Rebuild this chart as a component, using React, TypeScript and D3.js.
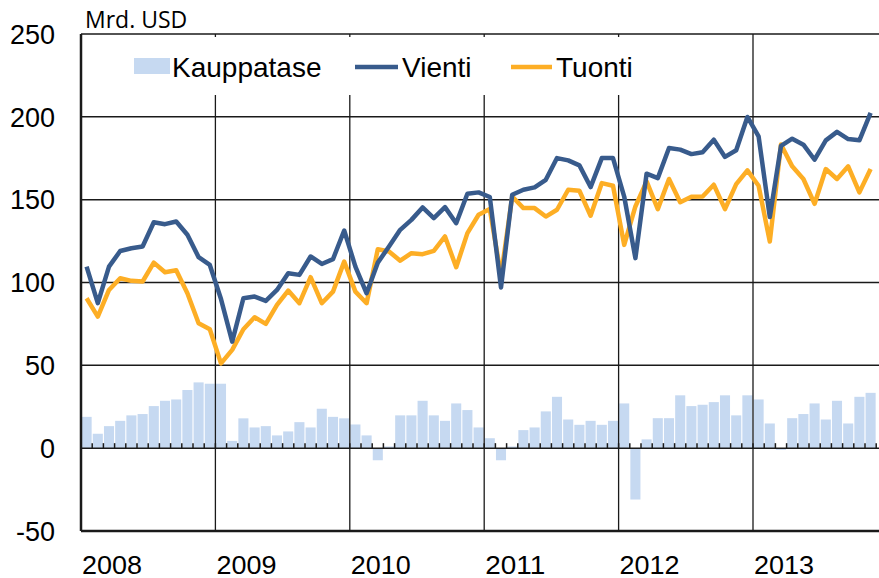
import React from "react";
import * as d3 from "d3";

// monthly data Jan 2008 - Nov 2013, Mrd. USD
const years = ["2008", "2009", "2010", "2011", "2012", "2013"];
const yTicks = [-50, 0, 50, 100, 150, 200, 250];

const vienti = [
  109.6, 87.5, 109.6, 119, 120.7, 121.7, 136.4, 135.2, 136.8, 128.8, 115.3, 110.6,
  90, 64.3, 90.5, 91.5, 88.9, 95.5, 105.6, 104.6, 115.7, 111.2, 114.1, 131.4,
  109.6, 93.5, 112, 121.7, 131.8, 137.8, 145.3, 138.9, 145.5, 135.8, 153.6, 154.4,
  151.6, 97, 153, 156, 157.4, 162, 175.1, 173.7, 170.7, 157.6, 175.1, 175.1,
  151.9, 114.7, 165.7, 163, 181.2, 180.2, 177.5, 178.6, 186.2, 175.8, 179.8, 199.9,
  188.2, 139.5, 182.5, 186.8, 183.2, 174.1, 185.8, 190.9, 186.6, 185.8, 202.4,
];

const tuonti = [
  90.5, 79.4, 95.5, 102.6, 101, 100.6, 112, 106.2, 107.4, 93.5, 75.4, 71.8,
  51.2, 59.3, 71.8, 79, 75, 86.5, 95.1, 87.5, 103.2, 87.5, 94.5, 112.6,
  94.5, 87.5, 120.1, 118.7, 113.2, 117.7, 117.1, 119.1, 127.8, 109.2, 129.8, 140.9,
  144.3, 104, 151.9, 144.9, 144.9, 139.8, 143.9, 156, 155.4, 140.3, 160, 158.4,
  122.7, 145.9, 161, 144.3, 162.5, 148.5, 151.8, 151.9, 159, 144.3, 159.4, 167.7,
  158.4, 124.7, 183.3, 170.1, 162.5, 147.5, 168.5, 162.5, 170.1, 154.4, 168.5,
];

const kauppatase = [
  18.9, 8.7, 13.3, 16.5, 19.8, 20.6, 25.4, 28.6, 29.4, 35.1, 39.7, 38.9,
  38.9, 4.4, 18, 12.5, 13.3, 7.7, 10.1, 15.7, 12.5, 23.8, 18.9, 18,
  14.3, 7.7, -7.3, 1, 19.8, 19.8, 28.6, 19.8, 16.5, 27, 23, 12.5,
  6, -7.3, 1, 10.9, 12.5, 22.2, 31, 17.3, 14.1, 16.5, 14.1, 16.5,
  27, -31, 5.3, 18.1, 18.1, 31.9, 25.4, 26.2, 27.8, 31.9, 19.8, 31.9,
  29.4, 14.9, -1, 18.1, 20.6, 27, 17.3, 28.6, 14.9, 31, 33.4,
];

// band per month, axis runs to end of 2013
const months = d3.range(years.length * 12);

const W = 879;
const H = 578;
const left = 81;
const monthW = 11.2;
const top = 34;
const bottom = 531;

const font = "'Liberation Sans', Arial, sans-serif";
const gridColor = "#1a1a1a";

const App = () => {
  const x = d3.scaleBand<number>()
    .domain(months)
    .range([left, left + months.length * monthW])
    .paddingInner(0.1)
    .paddingOuter(0.05);

  const y = d3.scaleLinear().domain([-50, 250]).range([bottom, top]);

  const cx = (i: number) => (x(i) as number) + x.bandwidth() / 2;

  const line = d3.line<number>()
    .x((d, i) => cx(i))
    .y((d) => y(d));

  const yearX = (k: number) => left + k * 12 * monthW;

  return (
    <svg width={W} height={H} style={{ position: "absolute", left: 0, top: 0, background: "#fff" }}>
      {/* balance bars */}
      {kauppatase.map((v, i) => (
        <rect
          key={"b" + i}
          x={x(i)}
          y={y(Math.max(0, v))}
          width={x.bandwidth()}
          height={Math.abs(y(v) - y(0))}
          fill="#c6d9f1"
        />
      ))}

      {/* horizontal grid */}
      {yTicks.map((t) => (
        <line key={"h" + t} x1={left} x2={W} y1={y(t)} y2={y(t)}
          stroke={gridColor} strokeWidth={t === -50 ? 2.5 : 1.5} />
      ))}

      {/* year lines */}
      {years.map((yr, k) => (
        <line key={"v" + yr} x1={yearX(k)} x2={yearX(k)} y1={top} y2={bottom}
          stroke={gridColor} strokeWidth={k === 0 ? 2.5 : 1.3} />
      ))}

      {/* month ticks on zero line */}
      {months.map((m) => (
        <line key={"t" + m} x1={left + m * monthW} x2={left + m * monthW}
          y1={y(0)} y2={y(0) - 5} stroke={gridColor} strokeWidth={1.5} />
      ))}

      {/* legend box */}
      <rect x={100} y={37} width={560} height={58} fill="#fff" />
      <rect x={134} y={58} width={36} height={16} fill="#c6d9f1" />
      <text x={172} y={77} fontFamily={font} fontSize={28}>Kauppatase</text>
      <line x1={355} x2={398} y1={67} y2={67} stroke="#385b8c" strokeWidth={4.5} />
      <text x={402} y={77} fontFamily={font} fontSize={28}>Vienti</text>
      <line x1={511} x2={552} y1={67} y2={67} stroke="#fdae25" strokeWidth={4.5} />
      <text x={556} y={77} fontFamily={font} fontSize={28}>Tuonti</text>

      {/* lines */}
      <path d={line(tuonti) || ""} fill="none" stroke="#fdae25" strokeWidth={4.5} strokeLinejoin="round" />
      <path d={line(vienti) || ""} fill="none" stroke="#385b8c" strokeWidth={4.5} strokeLinejoin="round" />

      {/* y axis labels */}
      {yTicks.map((t) => (
        <text key={"yl" + t} x={55} y={y(t)} dy="0.36em" textAnchor="end"
          fontFamily={font} fontSize={27}>{t}</text>
      ))}

      {/* year labels */}
      {years.map((yr, k) => (
        <text key={"yr" + yr} x={yearX(k) + 1} y={574} fontFamily={font} fontSize={25}
          textLength={60} lengthAdjust="spacingAndGlyphs">{yr}</text>
      ))}

      <text x={85} y={28} fontFamily="'Open Sans', 'Noto Sans', sans-serif" fontSize={23}>Mrd. USD</text>
    </svg>
  );
};

export default App;
